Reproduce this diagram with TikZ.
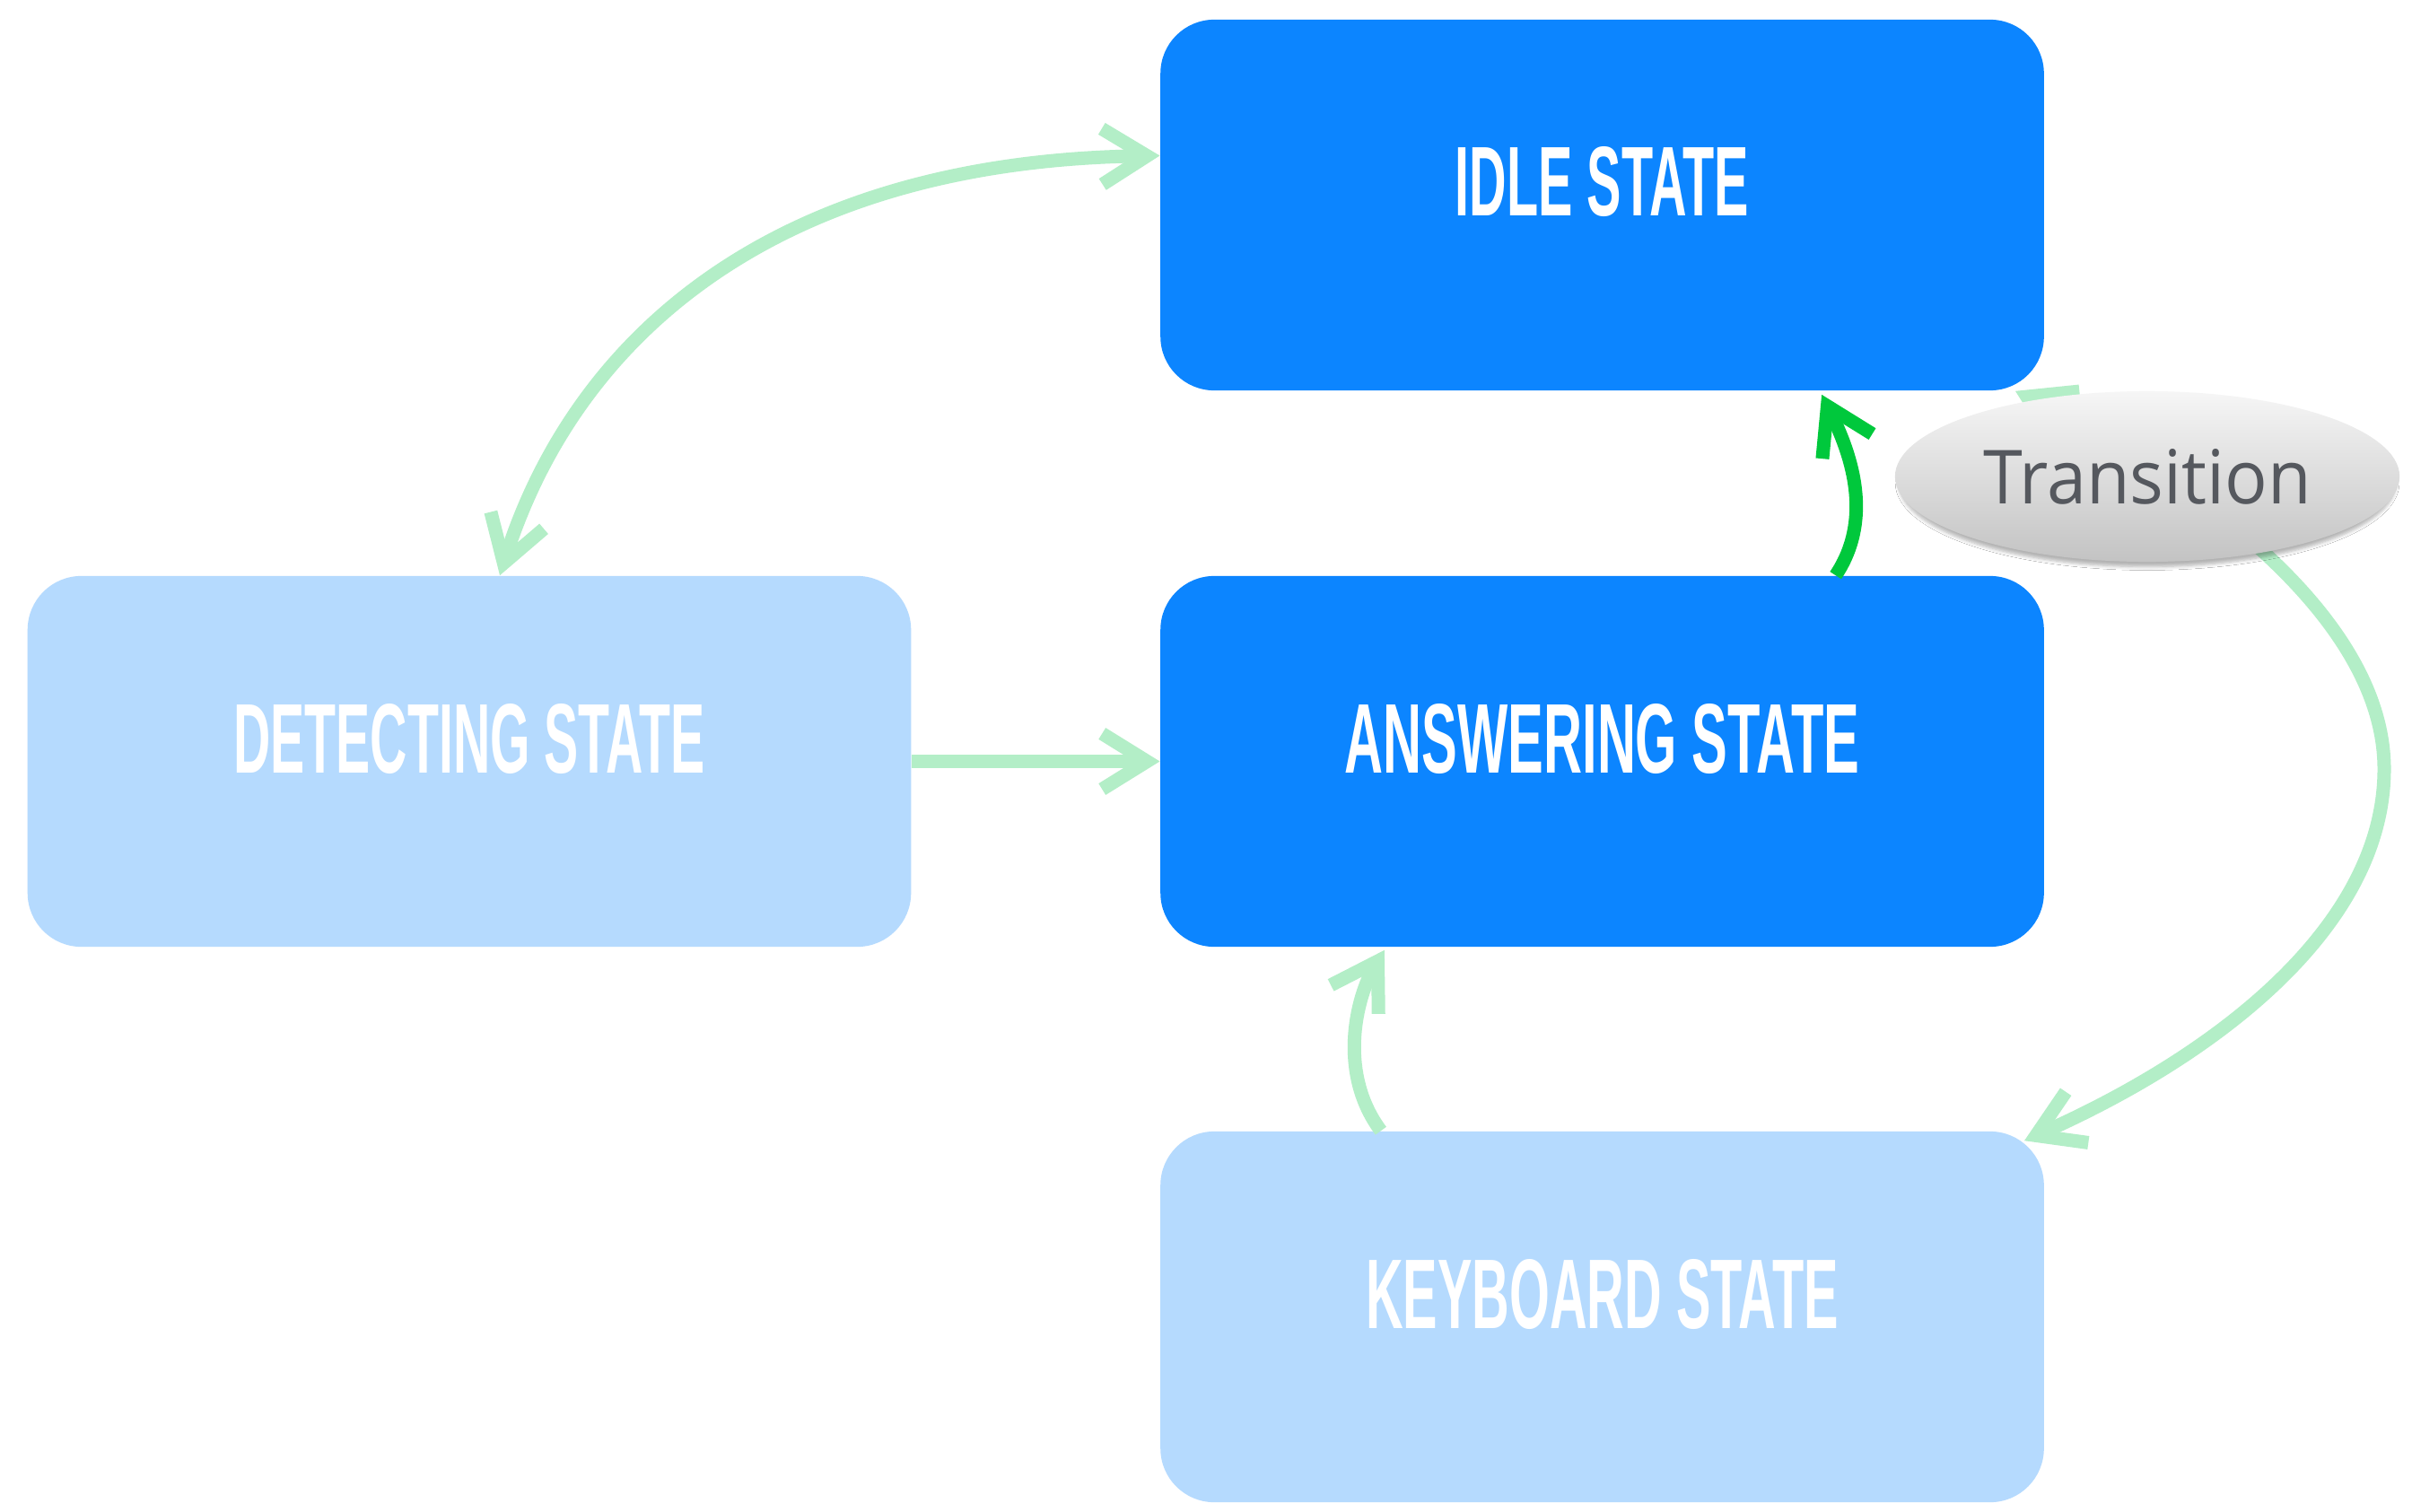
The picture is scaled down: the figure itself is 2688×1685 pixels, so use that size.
\documentclass[tikz,border=0pt]{standalone}
\usepackage{fontspec}
\usetikzlibrary{arrows.meta,shapes.geometric,shadows.blur}
\newfontfamily\statefont{Liberation Sans}
\newfontfamily\transfont{Open Sans}
\definecolor{darkblue}{HTML}{0C85FF}
\definecolor{lightblue}{HTML}{B5DAFE}
\definecolor{lightgreen}{HTML}{B3EEC7}
\definecolor{brightgreen}{HTML}{00C83C}
\definecolor{transtext}{HTML}{55585E}
\definecolor{elltop}{HTML}{F6F6F6}
\definecolor{ellbot}{HTML}{C3C3C3}
\begin{document}
\begin{tikzpicture}[x=0.01cm,y=-0.01cm,
  >={Straight Barb[length=0.5cm,width=0.62cm,line cap=butt]},
  statebox/.style={rectangle, rounded corners=0.6cm, minimum width=9.84cm, minimum height=4.13cm, inner sep=0pt},
  darkstate/.style={statebox, fill=darkblue},
  lightstate/.style={statebox, fill=lightblue},
  statelabel/.style={text=white, inner sep=0pt, font=\statefont\bfseries},
  conn/.style={draw=lightgreen, line width=0.15cm, ->},
  transbubble/.style={ellipse, minimum width=5.62cm, minimum height=1.9cm, inner sep=0pt,
    top color=elltop, bottom color=ellbot, text=transtext, font=\transfont,
    blur shadow={shadow xshift=0pt, shadow yshift=-0.07cm, shadow scale=0.985, shadow blur radius=0.04cm, shadow blur steps=6, shadow opacity=30}}
]
\fill[white] (0,0) rectangle (2688,1685);
\useasboundingbox (0,0) rectangle (2688,1685);

% state boxes
\node[darkstate] (idle) at (1785.5,228.5) {};
\node[statelabel] (idletext) at ([yshift=0.26cm]idle.center) {\resizebox{3.27cm}{0.77cm}{IDLE STATE}};
\node[lightstate] (detect) at (523,848.5) {};
\node[statelabel] (detecttext) at ([yshift=0.25cm]detect.center) {\resizebox{5.25cm}{0.77cm}{DETECTING STATE}};
\node[darkstate] (answer) at (1785.5,848.5) {};
\node[statelabel] (answertext) at ([yshift=0.25cm]answer.center) {\resizebox{5.73cm}{0.77cm}{ANSWERING STATE}};
\node[lightstate] (keyboard) at (1785.5,1467.5) {};
\node[statelabel] (keyboardtext) at ([yshift=0.25cm]keyboard.center) {\resizebox{5.26cm}{0.77cm}{KEYBOARD STATE}};

% connectors
\draw[conn] (detect.east) -- (answer.west);
\draw[conn, <->] ([yshift=0.55cm]idle.west) .. controls (857,180) and (640,380) .. ([xshift=0.34cm]detect.north);
\draw[conn, draw=brightgreen] ([xshift=2.6cm]answer.north) .. controls (2090,575) and (2060,500) .. ([shift={(2.445cm,-0.04cm)}]idle.south);
\draw[conn] ([xshift=-2.465cm]keyboard.north) .. controls (1490,1195) and (1512,1110) .. ([shift={(-2.425cm,-0.03cm)}]answer.south);
\coordinate (bend) at (2657,857);
\draw[conn, <->] ([xshift=-0.325cm]idle.south east) .. controls (2425,523) and (2657,680) .. (bend)
  .. controls (2657,1030) and (2475,1174) .. ([shift={(-0.225cm,-0.11cm)}]keyboard.north east);

% transition label
\node[transbubble] (trans) at (2393,531) {\resizebox{3.65cm}{0.61cm}{Transition}};
\end{tikzpicture}
\end{document}
